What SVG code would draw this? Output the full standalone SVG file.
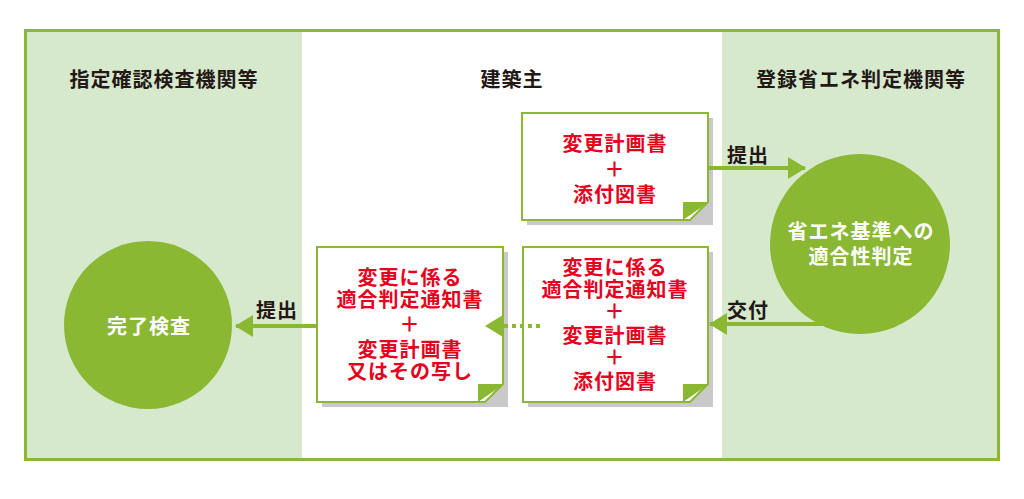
<svg xmlns="http://www.w3.org/2000/svg" width="1024" height="499" viewBox="0 0 1024 499">
<style>
text{font-family:"Noto Sans CJK JP","Noto Sans",sans-serif;font-weight:bold;font-size:20px;text-anchor:middle;letter-spacing:1px}
.title{fill:#231815}
.lbl{fill:#231815;text-anchor:start}
.red{fill:#e60020}
.wht{fill:#ffffff}
.doc{fill:#ffffff;stroke:#8ab833;stroke-width:2}
.shadow{fill:#c9c9c9}
.fold{fill:#8ab833}
.circ{fill:#8ab833}
.conn{stroke:#8ab833;stroke-width:4;fill:none}
.dot{stroke:#8ab833;stroke-width:4;fill:none;stroke-dasharray:4 4}
</style>
<defs>
<marker id="ah" markerUnits="userSpaceOnUse" markerWidth="18" markerHeight="22" refX="17" refY="11" orient="auto">
<path d="M0,0 L18,11 L0,22 Z" fill="#8ab833"/>
</marker>
</defs>
<rect width="1024" height="499" fill="#ffffff"/>
<g id="frame">
<rect x="26" y="31" width="276" height="428" fill="#d6e9cd"/>
<rect x="722" y="31" width="276" height="428" fill="#d6e9cd"/>
<rect x="25.5" y="30.5" width="973" height="429" fill="none" stroke="#8ab833" stroke-width="3"/>
</g>
<g id="titles">
<text class="title" x="164" y="87">指定確認検査機関等</text>
<text class="title" x="512" y="87">建築主</text>
<text class="title" x="861" y="87">登録省エネ判定機関等</text>
</g>
<g id="doc-top">
<path class="shadow" d="M527,118 H713 V225 H527 Z"/>
<path class="doc" d="M522,113 H708 V202 L690,220 H522 Z"/>
<path class="fold" d="M683,220 L683,202 L709,202 Z"/>
<text class="red" x="615" y="151">変更計画書</text>
<text class="red" x="615" y="177">＋</text>
<text class="red" x="615" y="202">添付図書</text>
</g>
<g id="doc-bottom-right">
<path class="shadow" d="M528,252 H713 V407 H528 Z"/>
<path class="doc" d="M523,247 H708 V384 L690,402 H523 Z"/>
<path class="fold" d="M683,402 L683,384 L709,384 Z"/>
<text class="red" x="615" y="275">変更に係る</text>
<text class="red" x="615" y="297">適合判定通知書</text>
<text class="red" x="615" y="319">＋</text>
<text class="red" x="615" y="343">変更計画書</text>
<text class="red" x="615" y="365">＋</text>
<text class="red" x="615" y="389">添付図書</text>
</g>
<g id="doc-bottom-left">
<path class="shadow" d="M322,252 H508 V407 H322 Z"/>
<path class="doc" d="M317,247 H503 V384 L485,402 H317 Z"/>
<path class="fold" d="M478,402 L478,384 L504,384 Z"/>
<text class="red" x="410" y="285">変更に係る</text>
<text class="red" x="410" y="307">適合判定通知書</text>
<text class="red" x="410" y="332">＋</text>
<text class="red" x="410" y="357">変更計画書</text>
<text class="red" x="410" y="379">又はその写し</text>
</g>
<g id="circle-right">
<circle class="circ" cx="860" cy="244" r="90"/>
<text class="wht" x="861" y="239">省エネ基準への</text>
<text class="wht" x="861" y="264">適合性判定</text>
</g>
<g id="circle-left">
<circle class="circ" cx="148" cy="325" r="84"/>
<text class="wht" x="149" y="334">完了検査</text>
</g>
<g id="connectors">
<line class="conn" x1="708" y1="168" x2="805" y2="168" marker-end="url(#ah)"/>
<line class="conn" x1="826" y1="324" x2="710" y2="324" marker-end="url(#ah)"/>
<line class="dot" x1="540" y1="326" x2="486" y2="326" marker-end="url(#ah)"/>
<line class="conn" x1="317" y1="326" x2="236" y2="326" marker-end="url(#ah)"/>
<text class="lbl" x="727" y="163">提出</text>
<text class="lbl" x="727" y="318">交付</text>
<text class="lbl" x="256" y="318">提出</text>
</g>
</svg>
